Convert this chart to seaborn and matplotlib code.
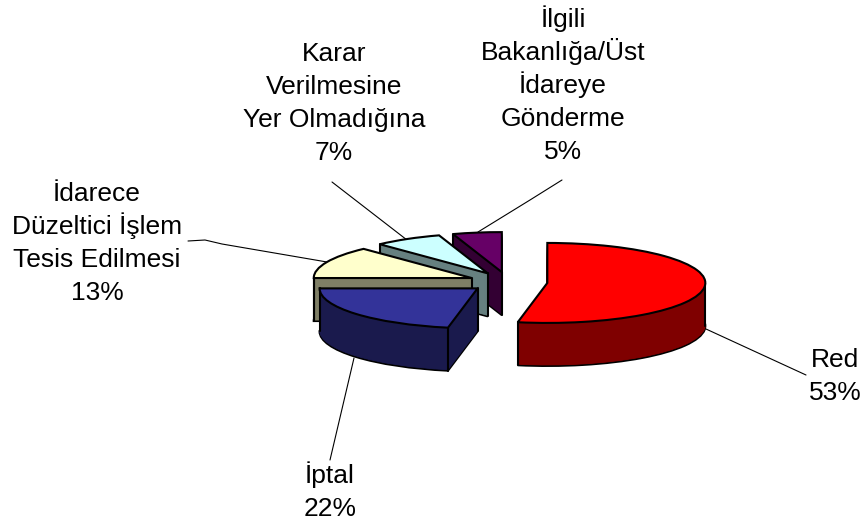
import numpy as np
import matplotlib
matplotlib.use("Agg")
import matplotlib.pyplot as plt
from matplotlib.transforms import Affine2D
import seaborn as sns

# ---- data ----
names = ["Red", "İptal", "İdarece\nDüzeltici İşlem\nTesis Edilmesi",
         "Karar\nVerilmesine\nYer Olmadığına", "İlgili\nBakanlığa/Üst\nİdareye\nGönderme"]
values = [53, 22, 13, 7, 5]
top_colors = ["#ff0000", "#333399", "#ffffcc", "#ccffff", "#660066"]
side_colors = ["#7f0000", "#1a1a4d", "#7f7f66", "#668080", "#330033"]

# ---- layout (pixels of the 865x525 image) ----
paint_order = [4, 5, 3, 2, 1]  # later rank is nearer the viewer
W, H = 865, 525
CX, CY, RX, RY = 508, 282, 158, 40
DEPTH = 43
EXPLODE = 0.25
label_pos = [(835, 367), (330, 483), (97, 201), (334, 61), (563, 27)]  # first baseline
LINE_PX = 33
leaders = [
    [(706, 329), (806, 375)],
    [(354, 358), (330, 460)],
    [(188, 241), (205, 240), (222, 244), (327, 262)],
    [(332, 182), (407, 240)],
    [(562, 180), (530, 200), (478, 232)],
]

sns.set_theme(style="white")
plt.rcParams["font.family"] = ["Liberation Sans", "DejaVu Sans"]

fig = plt.figure(figsize=(W / 100, H / 100), dpi=100, facecolor="white")
ax = fig.add_axes([0, 0, 1, 1])
explode = [EXPLODE] * len(values)
px_tr = Affine2D().scale(1 / W, -1 / H).translate(0, 1) + fig.transFigure


def draw_pie(colors, offset_px, **wedge_kw):
    wedges, _ = ax.pie(values, explode=explode, colors=colors, startangle=90,
                       counterclock=False, center=(0, -offset_px / RY),
                       wedgeprops=wedge_kw)
    return wedges


# extruded sides: stacked copies of the same pie
for d in range(DEPTH, 0, -1):
    if d == DEPTH:
        wedges = draw_pie(side_colors, d, edgecolor="black", linewidth=1.5)
    else:
        wedges = draw_pie(side_colors, d, linewidth=0.6)
        for w, c in zip(wedges, side_colors):
            w.set_edgecolor(c)
    for w, rank in zip(wedges, paint_order):
        w.set_zorder(rank * 1000 + (DEPTH - d))

# top faces
tops = draw_pie(top_colors, 0, edgecolor="black", linewidth=1.5)
for w, rank in zip(tops, paint_order):
    w.set_zorder(rank * 1000 + 600)

# vertical silhouette edges, derived from each wedge's geometry
dy = DEPTH / RY
for w, rank in zip(tops, paint_order):
    cx, cy = w.center
    path = w.get_path().transformed(w.get_patch_transform())
    angles = [w.theta1, w.theta2]
    angles += [a for a in range(-720, 721, 180) if w.theta1 < a < w.theta2]
    pts = [(cx, cy)] + [(cx + w.r * np.cos(np.radians(a)), cy + w.r * np.sin(np.radians(a)))
                        for a in angles]
    for x, y in pts:
        if path.contains_point((x, y - 0.03)):
            continue
        ax.plot([x, x], [y, y - dy], color="black", lw=1.5, zorder=rank * 1000 + 500,
                solid_capstyle="round")

ax.set_aspect("auto")
ax.set_xlim((0 - CX) / RX, (W - CX) / RX)
ax.set_ylim((CY - H) / RY, CY / RY)
ax.set_position([0, 0, 1, 1])
ax.axis("off")

# leader lines
for pts in leaders:
    xs, ys = zip(*pts)
    ax.plot(xs, ys, color="black", lw=0.8, transform=px_tr, zorder=1, clip_on=False)

# labels
for name, v, (x, y) in zip(names, values, label_pos):
    for i, line in enumerate(f"{name}\n{v}%".split("\n")):
        ax.text(x, y + i * LINE_PX, line, transform=px_tr, ha="center", va="baseline",
                fontsize=19, color="black", zorder=9000)

fig.savefig("out.png", dpi=100, facecolor="white")
